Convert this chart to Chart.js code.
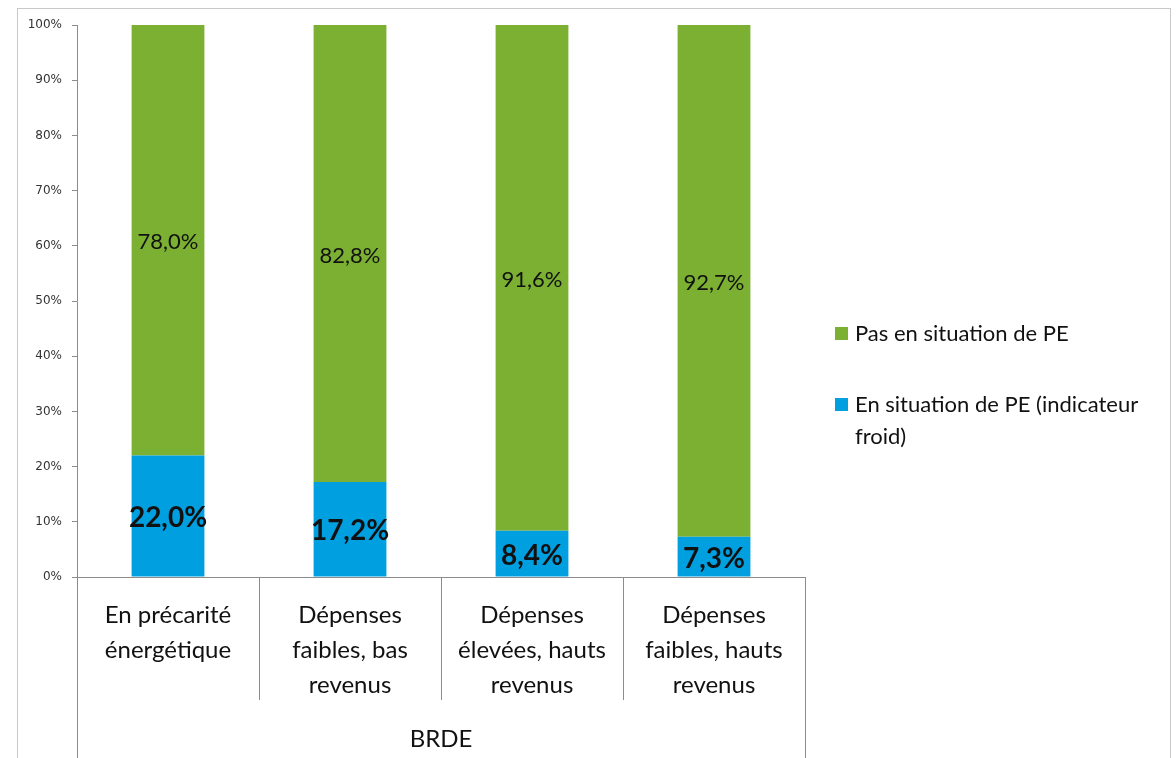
<!DOCTYPE html>
<html lang="fr">
<head>
    <meta charset="UTF-8">
    <title>Précarité énergétique - BRDE</title>
    <script src="https://cdn.jsdelivr.net/npm/chart.js"></script>
    <style>
        body { margin: 0; background: #fff; }
    </style>
</head>
<body>
    <canvas id="myChart" width="1176" height="758"></canvas>

    <script>
        // données
        const categories = [
            ['En précarité', 'énergétique'],
            ['Dépenses', 'faibles, bas', 'revenus'],
            ['Dépenses', 'élevées, hauts', 'revenus'],
            ['Dépenses', 'faibles, hauts', 'revenus']
        ];
        const enSituationPE = [22.0, 17.2, 8.4, 7.3];
        const pasEnSituationPE = [78.0, 82.8, 91.6, 92.7];
        const groupLabel = 'BRDE';
        const legendItems = [
            { lines: ['Pas en situation de PE'], color: '#7BB032' },
            { lines: ['En situation de PE (indicateur', 'froid)'], color: '#009FE0' }
        ];

        const GREEN = '#7BB032';
        const BLUE = '#009FE0';
        const AXIS = '#8c8c8c';
        const TXT = '#111';
        const LABEL_FONT = 'Lato, "Open Sans", sans-serif';

        const fmt = v => v.toFixed(1).replace('.', ',') + '%';

        // cadre, séparateurs de catégories, étiquettes de valeurs, légende
        const decorPlugin = {
            id: 'decor',
            beforeDraw(chart) {
                const ctx = chart.ctx;
                ctx.save();
                ctx.strokeStyle = '#c8c8c8';
                ctx.lineWidth = 1;
                ctx.strokeRect(17.5, 8.5, 1153, 800);
                ctx.restore();
            },
            afterDraw(chart) {
                const ctx = chart.ctx;
                const x = chart.scales.x;
                const area = chart.chartArea;
                const half = (x.getPixelForValue(1) - x.getPixelForValue(0)) / 2;

                ctx.save();
                ctx.strokeStyle = AXIS;
                ctx.lineWidth = 1;
                for (let i = 0; i <= categories.length; i++) {
                    const px = Math.round(x.getPixelForValue(0) - half + i * half * 2) + 0.5;
                    const outer = (i === 0 || i === categories.length);
                    ctx.beginPath();
                    ctx.moveTo(px, area.bottom);
                    ctx.lineTo(px, outer ? chart.height : area.bottom + 123);
                    ctx.stroke();
                }

                // étiquettes de valeurs
                ctx.textAlign = 'center';
                ctx.textBaseline = 'middle';
                ctx.fillStyle = TXT;
                chart.data.datasets.forEach((ds, di) => {
                    const meta = chart.getDatasetMeta(di);
                    meta.data.forEach((bar, i) => {
                        const midY = (bar.y + bar.base) / 2;
                        ctx.font = di === 0
                            ? 'bold 28px ' + LABEL_FONT
                            : '22px ' + LABEL_FONT;
                        ctx.fillText(fmt(ds.data[i]), bar.x, midY + 2);
                    });
                });

                // légende
                ctx.textAlign = 'left';
                ctx.font = '22px ' + LABEL_FONT;
                let y = 334;
                legendItems.forEach(item => {
                    ctx.fillStyle = item.color;
                    ctx.fillRect(835, y - 7, 13, 13);
                    ctx.fillStyle = TXT;
                    item.lines.forEach((line, k) => {
                        ctx.fillText(line, 855, y + k * 32);
                    });
                    y += 71;
                });
                ctx.restore();
            }
        };

        const data = {
            labels: categories,
            datasets: [
                {
                    label: 'En situation de PE (indicateur froid)',
                    data: enSituationPE,
                    backgroundColor: BLUE,
                    barPercentage: 0.4,
                    categoryPercentage: 1
                },
                {
                    label: 'Pas en situation de PE',
                    data: pasEnSituationPE,
                    backgroundColor: GREEN,
                    barPercentage: 0.4,
                    categoryPercentage: 1
                }
            ]
        };

        const config = {
            type: 'bar',
            data: data,
            plugins: [decorPlugin],
            options: {
                responsive: false,
                animation: false,
                layout: { padding: { top: 25, right: 371, left: 0, bottom: 0 } },
                plugins: {
                    legend: { display: false },
                    tooltip: { enabled: false }
                },
                scales: {
                    x: {
                        stacked: true,
                        afterFit: s => { s.height = 181; },
                        grid: { display: false },
                        border: { display: true, color: AXIS },
                        ticks: {
                            padding: 13,
                            color: TXT,
                            maxRotation: 0,
                            autoSkip: false,
                            font: { family: LABEL_FONT, size: 24, lineHeight: 1.46 }
                        },
                        title: {
                            display: true,
                            text: groupLabel,
                            color: TXT,
                            font: { family: LABEL_FONT, size: 24, lineHeight: 1.2 },
                            padding: { top: 0, bottom: 4 }
                        }
                    },
                    y: {
                        stacked: true,
                        min: 0,
                        max: 100,
                        afterFit: s => { s.width = 77; },
                        grid: {
                            drawOnChartArea: false,
                            tickLength: 5,
                            color: AXIS
                        },
                        border: { display: true, color: AXIS },
                        ticks: {
                            stepSize: 10,
                            padding: 10,
                            color: '#333',
                            font: { family: '"DejaVu Sans", sans-serif', size: 12 },
                            callback: v => v + '%'
                        }
                    }
                }
            }
        };

        const ctx = document.getElementById('myChart').getContext('2d');
        const chart = new Chart(ctx, config);
    </script>
</body>
</html>
